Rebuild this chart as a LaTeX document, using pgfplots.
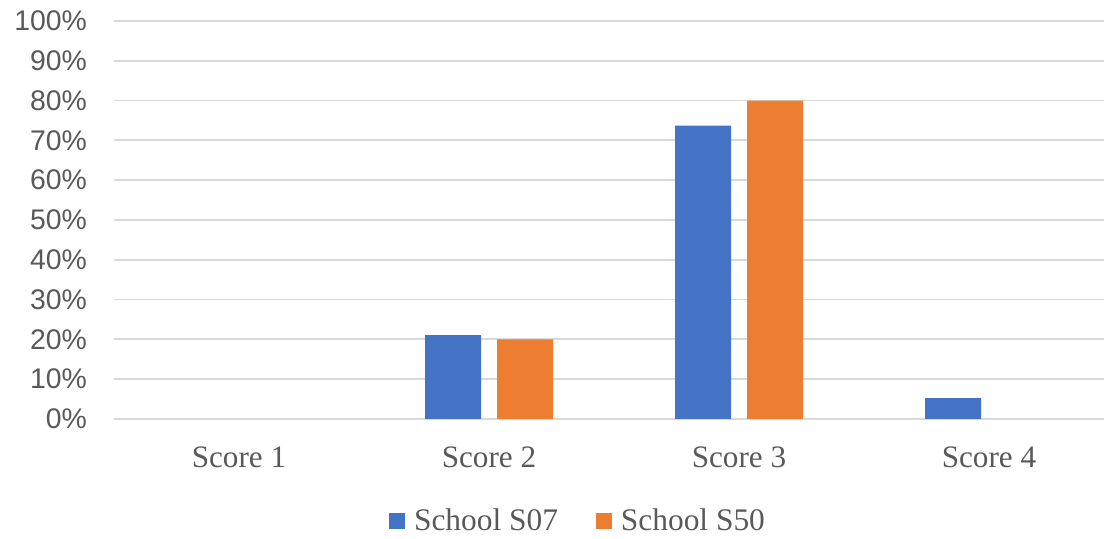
\documentclass[border=0pt]{standalone}
\usepackage{pgfplots}
\pgfplotsset{compat=1.18}
\usepackage{fontspec}
\setmainfont{Liberation Serif}
\newfontfamily\arialf{Liberation Sans}
\definecolor{sblue}{HTML}{4472C4}
\definecolor{sorange}{HTML}{ED7D31}
\definecolor{gridc}{HTML}{D9D9D9}
\definecolor{txt}{HTML}{595959}
\begin{document}
\begin{tikzpicture}
\begin{axis}[
  at={(0,0)}, anchor=south west,
  scale only axis,
  width=495pt, height=199pt,
  xmin=-0.5, xmax=3.46,
  ymin=0, ymax=100,
  ybar=8pt, bar width=28pt,
  axis line style={draw=none},
  ymajorgrids, grid style={gridc, line width=0.9pt},
  xtick={0,1,2,3},
  xticklabels={Score 1,Score 2,Score 3,Score 4},
  ytick={0,10,...,100},
  yticklabels={0\%,10\%,20\%,30\%,40\%,50\%,60\%,70\%,80\%,90\%,100\%},
  major tick length=0pt,
  xticklabel style={font=\fontsize{15.6}{17}\selectfont, text=txt, anchor=north, yshift=-10.5pt},
  yticklabel style={font=\arialf\fontsize{14.2}{16}\selectfont, text=txt, anchor=east, xshift=-10pt},
  clip=false,
  legend style={at={(0.4697,-0.256)}, anchor=center, draw=none, fill=none,
    legend columns=2, font=\fontsize{15.7}{17}\selectfont, text=txt,
    /tikz/every odd column/.append style={column sep=2.5pt},
    /tikz/every even column/.append style={column sep=17pt}},
  legend image code/.code={\fill[#1] (0pt,-4pt) rectangle (8pt,4pt);},
]
\addplot[fill=sblue, draw=none] coordinates {(1,21.05) (2,73.68) (3,5.26)};
\addplot[fill=sorange, draw=none] coordinates {(1,20) (2,80)};
\legend{School S07,School S50}
\end{axis}
\pgfresetboundingbox
\useasboundingbox (-57pt,-60pt) rectangle (495pt,209.5pt);
\end{tikzpicture}
\end{document}
